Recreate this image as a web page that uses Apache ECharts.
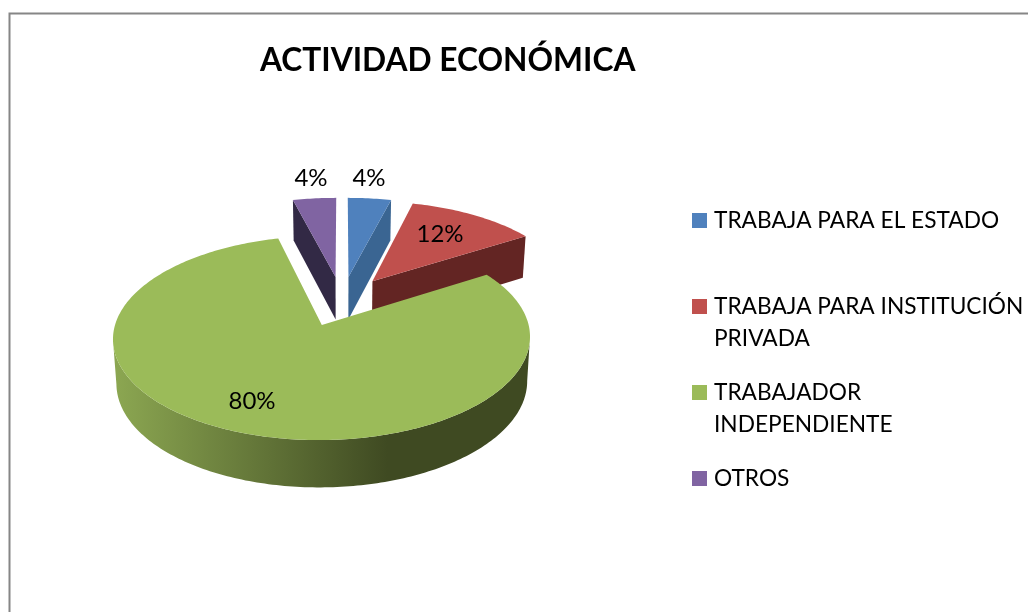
<!DOCTYPE html>
<html>
<head>
<meta charset="utf-8">
<title>ACTIVIDAD ECONÓMICA</title>
<style>
  html, body { margin: 0; padding: 0; background: #fff; }
  #main { width: 1028px; height: 612px; }
</style>
<script src="https://cdn.jsdelivr.net/npm/echarts@6/dist/echarts.min.js"></script>
</head>
<body>
<div id="main"></div>
<script>
// data
var titleText = 'ACTIVIDAD ECONÓMICA';
var categories = ['TRABAJA PARA EL ESTADO', 'TRABAJA PARA INSTITUCIÓN', 'TRABAJADOR', 'OTROS'];
var categorySecondLines = ['', 'PRIVADA', 'INDEPENDIENTE', ''];
var values = [4, 12, 80, 4];

// styles
var topColors = ['#4f81bd', '#c0504d', '#9bbb59', '#8064a2'];
var sideColors = ['#3a6592', '#632523', '#3f4a22', '#322945'];
var fontName = 'Lato, Carlito, "Open Sans", sans-serif';
var labelSpots = [[369, 178], [440, 234], [252, 401], [311, 178]];
var legendTops = [209, 295, 381, 467];
var drawOrder = [2, 2, 3, 4];

// perspective of the tilted pie
var vanishX = 342, originY = 325, spanX = 206.8, spanY = 100.4, persp = 0.127;
var centerX = 0.0975, centerY = 0.246, explode = 0.265;

var total = values.reduce(function (a, b) { return a + b; }, 0);
var startAngles = [];
values.reduce(function (acc, v, i) {
  startAngles[i] = acc;
  return acc + v / total * Math.PI * 2;
}, 0);

function project(x, y) {
  var s = 1 / (1 + persp * y);
  return { x: vanishX + spanX * (x - centerX) * s, y: originY - spanY * y * s, s: s };
}
function toTop(p) { return [p.x, p.y]; }
function toBottom(p) {
  return [vanishX + (p.x - vanishX) * 0.985, p.y + 21 + 23 * p.s];
}

function renderSlice(params, api) {
  var i = params.seriesIndex;
  var a0 = startAngles[i];
  var a1 = a0 + api.value(0) / total * Math.PI * 2;
  var mid = (a0 + a1) / 2;
  var ax = centerX + explode * Math.sin(mid);
  var ay = centerY + explode * Math.cos(mid);
  var apex = project(ax, ay);
  var rim = [];
  var steps = Math.ceil((a1 - a0) / (Math.PI / 180));
  for (var k = 0; k <= steps; k++) {
    var t = a0 + (a1 - a0) * k / steps;
    rim.push(project(ax + Math.sin(t), ay + Math.cos(t)));
  }
  var first = rim[0], last = rim[rim.length - 1];
  var children = [];

  if (i === 2) {
    // outer wall of the big slice, only the front part between the widest points
    var right = 0, left = 0;
    rim.forEach(function (p, k) {
      if (p.x > rim[right].x) right = k;
      if (p.x < rim[left].x) left = k;
    });
    var front = rim.slice(right, left + 1);
    var wall = front.map(toTop).concat(front.slice().reverse().map(toBottom));
    children.push({
      type: 'polygon',
      shape: { points: wall },
      style: {
        fill: new echarts.graphic.LinearGradient(117, 0, 527, 0, [
          { offset: 0, color: '#8ba651' },
          { offset: 0.66, color: '#3f4a22' },
          { offset: 1, color: '#3f4a22' }
        ], true)
      }
    });
  } else {
    // cut face that looks at the viewer
    var edge = i === 3 ? first : last;
    children.push({
      type: 'polygon',
      shape: { points: [toTop(apex), toTop(edge), toBottom(edge), toBottom(apex)] },
      style: { fill: sideColors[i] }
    });
  }

  children.push({
    type: 'polygon',
    shape: { points: [toTop(apex)].concat(rim.map(toTop)) },
    style: { fill: topColors[i] }
  });
  children.push({
    type: 'text',
    x: labelSpots[i][0],
    y: labelSpots[i][1],
    style: {
      text: Math.round(api.value(0) / total * 100) + '%',
      fill: '#000',
      font: '24px ' + fontName,
      align: 'center',
      verticalAlign: 'middle'
    }
  });
  return { type: 'group', children: children };
}

var chart = echarts.init(document.getElementById('main'), null, { renderer: 'canvas' });

var option = {
  animation: false,
  backgroundColor: '#fff',
  title: {
    text: titleText,
    left: 260,
    top: 45,
    padding: 0,
    textStyle: { color: '#000', fontFamily: fontName, fontWeight: 'bold', fontSize: 31.7 }
  },
  legend: categories.map(function (name, i) {
    return {
      data: [{ name: name, icon: 'rect' }],
      left: 692,
      top: legendTops[i],
      padding: 0,
      itemWidth: 15,
      itemHeight: 15,
      selectedMode: false,
      textStyle: { color: '#000', fontFamily: fontName, fontSize: 22.7, padding: [0, 0, 0, 2] }
    };
  }),
  graphic: [
    {
      type: 'rect',
      silent: true,
      shape: { x: 9.5, y: 13.5, width: 1100, height: 700 },
      style: { fill: 'none', stroke: '#868686', lineWidth: 2 }
    }
  ].concat(categorySecondLines.map(function (line, i) {
    return {
      type: 'text',
      silent: true,
      x: 714,
      y: legendTops[i] + 44,
      style: { text: line, fill: '#000', font: '22.7px ' + fontName, verticalAlign: 'middle' }
    };
  })),
  series: categories.map(function (name, i) {
    return {
      type: 'custom',
      name: name,
      coordinateSystem: 'none',
      silent: true,
      z: drawOrder[i],
      itemStyle: { color: topColors[i] },
      data: [[values[i]]],
      renderItem: renderSlice
    };
  })
};

chart.setOption(option);
</script>
</body>
</html>
